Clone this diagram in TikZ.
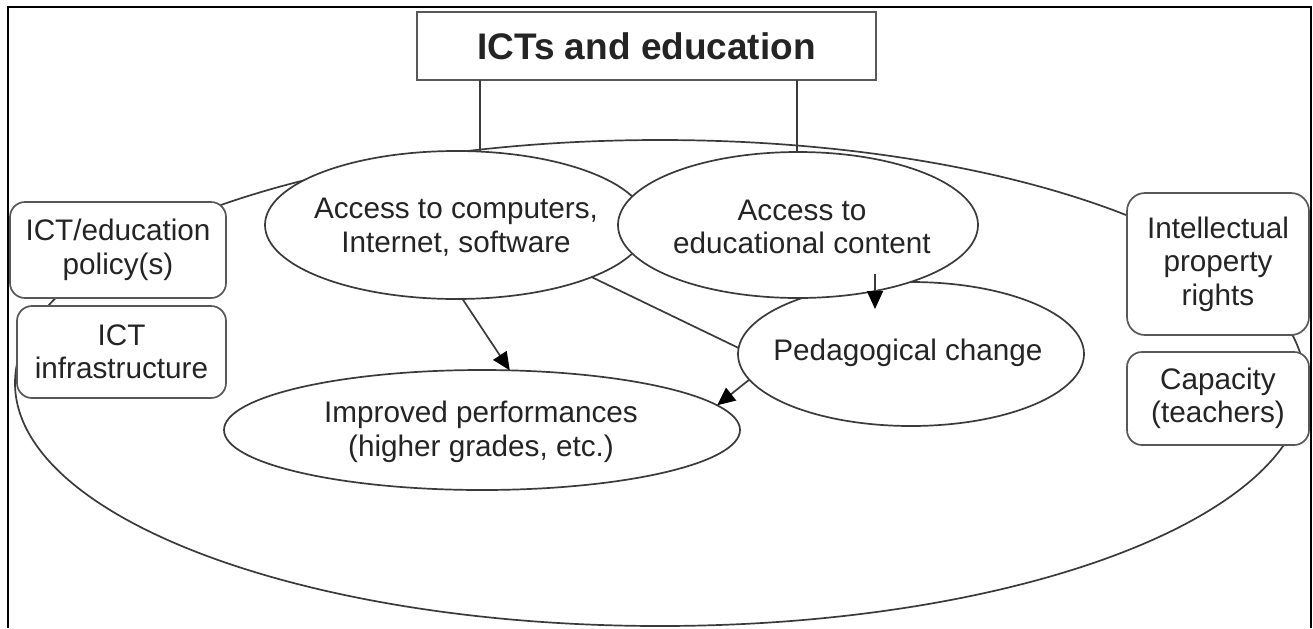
\documentclass[tikz,border=0pt]{standalone}
\usepackage{fontspec}
\setmainfont{Liberation Sans}
\usetikzlibrary{shapes.geometric,arrows.meta}
\definecolor{ln}{HTML}{3A3A3A}
\definecolor{bx}{HTML}{585858}
\definecolor{tx}{HTML}{242424}
\begin{document}
\begin{tikzpicture}[x=0.5pt,y=-0.5pt,
  ell/.style={ellipse, draw=ln, line width=0.85pt, fill=white, inner sep=0pt, outer sep=0pt},
  txt/.style={font=\fontsize{14.85}{16.7}\selectfont, text=tx, align=center, inner sep=0pt},
  rbox/.style={rectangle, rounded corners=7.5pt, draw=bx, line width=0.85pt, fill=white,
    inner sep=0pt, outer sep=0pt, font=\fontsize{14.85}{16.7}\selectfont, text=tx, align=center},
  conn/.style={draw=ln, line width=0.85pt},
  arr/.style={draw=ln, line width=0.85pt, -{Triangle[length=9pt,width=8pt,color=black]}},
  frame/.style={draw=black, line width=1.1pt}
]
\useasboundingbox (0,0) rectangle (1313,628);

% outer frame (top, left, right)
\draw[frame] (8,628) -- (8,7) -- (1311,7) -- (1311,628);

% big context ellipse
\node[ellipse, draw=ln, line width=0.85pt, inner sep=0pt, minimum width=645pt, minimum height=243pt] (ctx) at (660,383) {};

% side boxes
\node[rbox, minimum width=108pt, minimum height=48pt] (pol) at (118,250) {ICT/education\\policy(s)};
\node[rbox, minimum width=104.5pt, minimum height=46pt] (inf) at (121.5,352) {ICT\\infrastructure};
\node[rbox, rounded corners=9pt, minimum width=91pt, minimum height=71pt] (ipr) at (1218,264) {Intellectual\\property\\rights};
\node[rbox, minimum width=91pt, minimum height=46.5pt] (cap) at (1218,398.5) {Capacity\\(teachers)};

% title box
\node[rectangle, draw=bx, line width=0.85pt, fill=white, inner sep=0pt,
  minimum width=229.5pt, minimum height=34pt,
  font=\fontsize{18.5}{22}\selectfont\bfseries, text=tx] (title) at (646.5,46) {ICTs and education};

% inner ellipses
\node[ell, minimum width=191pt, minimum height=74pt] (A) at (456,225) {};
\node[ell, minimum width=173pt, minimum height=72pt] (P) at (911,354) {};
\node[ell, minimum width=180pt, minimum height=73pt] (B) at (798,225) {};
\node[ell, minimum width=258pt, minimum height=60pt] (I) at (482,430) {};

\node[txt] (Atxt) at (456,227) {Access to computers,\\Internet, software};
\node[txt] (Btxt) at (802,227) {Access to\\educational content};
\node[txt] (Ptxt) at (908,353) {Pedagogical change};
\node[txt] (Itxt) at (481,432) {Improved performances\\(higher grades, etc.)};

% connectors from title
\coordinate (t1) at (480,80);
\coordinate (t2) at (797,80);
\draw[conn] (t1) -- (t1 |- A.north);
\draw[conn] (t2) -- (t2 |- B.north);

% arrows
\draw[arr] (A.-85.4) -- (I.65);
\draw[conn] (A.-21.6) -- (P.178);
\draw[arr] (P.-171.7) -- (I.6.9);
\coordinate (d1) at (875,274);
\coordinate (d2) at (875,309);
\draw[arr] (d1) -- (d2);
\end{tikzpicture}
\end{document}
